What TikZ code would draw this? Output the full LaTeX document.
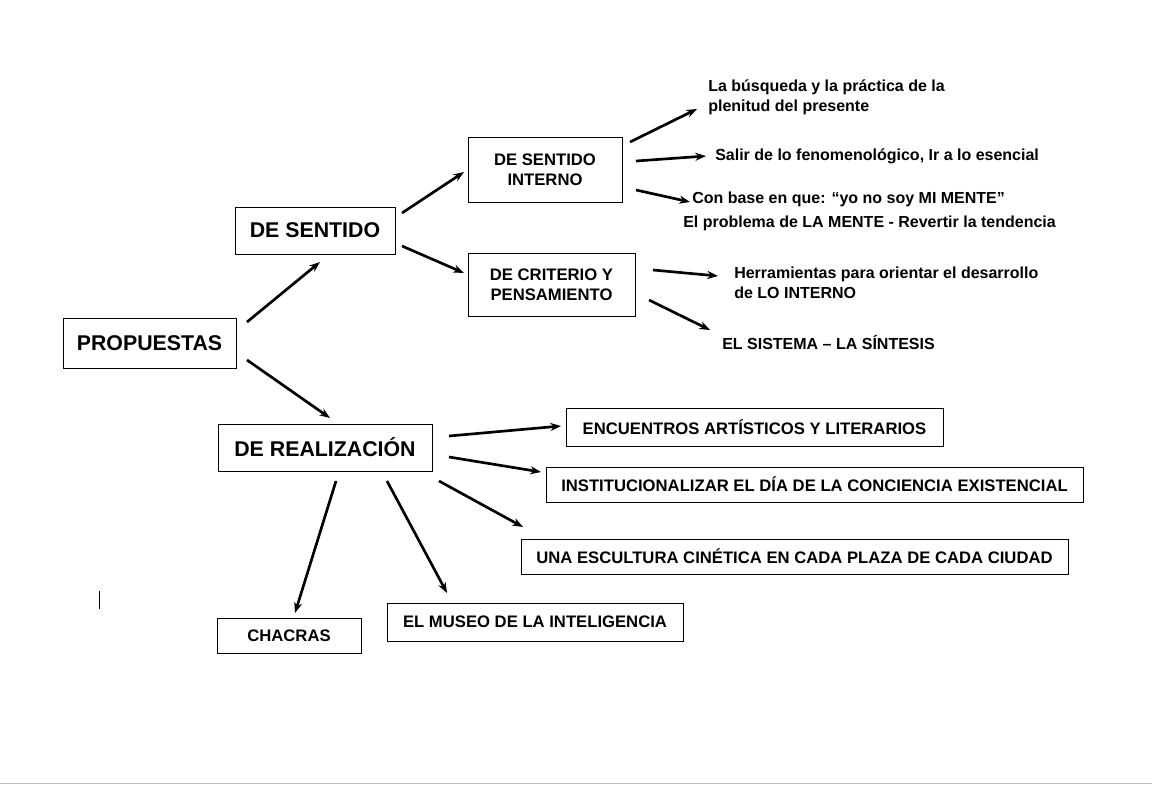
\documentclass[tikz,border=0pt]{standalone}
\usepackage{fontspec}
\setmainfont{Liberation Sans}
\usetikzlibrary{arrows.meta}
\begin{document}
\begin{tikzpicture}[x=0.75pt,y=-0.75pt,
  box/.style={draw,line width=0.6pt,inner sep=0pt,font=\bfseries\fontsize{12.5}{15}\selectfont,align=center},
  bigbox/.style={box,font=\bfseries\fontsize{16}{19}\selectfont},
  txt/.style={anchor=west,inner sep=0pt,font=\bfseries\fontsize{12}{15}\selectfont,align=left},
  arr/.style={-{Stealth[length=8pt,width=6pt]},line width=2pt}]
\fill[white] (0,0) rectangle (1152,785);
\useasboundingbox (0,0) rectangle (1152,785);
\draw[gray!50,line width=0.6pt] (0,783) -- (1152,783);
\draw[line width=0.6pt] (99,591) -- (99,609);
\node[bigbox,minimum width=173*0.75pt,minimum height=50*0.75pt] (prop) at (149.5,343) {PROPUESTAS};
\node[bigbox,minimum width=160*0.75pt,minimum height=47*0.75pt] (ds) at (315,230.5) {DE SENTIDO};
\node[box,minimum width=154*0.75pt,minimum height=65*0.75pt] (dsi) at (545,169.5) {DE SENTIDO\\INTERNO};
\node[box,minimum width=167*0.75pt,minimum height=63*0.75pt] (dcp) at (551.5,284.5) {DE CRITERIO Y\\PENSAMIENTO};
\node[bigbox,minimum width=214*0.75pt,minimum height=47*0.75pt] (dr) at (325,447.5) {DE REALIZACIÓN};
\node[box,minimum width=377*0.75pt,minimum height=38*0.75pt] (enc) at (754.5,427) {ENCUENTROS ARTÍSTICOS Y LITERARIOS};
\node[box,minimum width=537*0.75pt,minimum height=35*0.75pt] (ins) at (814.5,484.5) {INSTITUCIONALIZAR EL DÍA DE LA CONCIENCIA EXISTENCIAL};
\node[box,minimum width=547*0.75pt,minimum height=35*0.75pt] (esc) at (794.5,556.5) {UNA ESCULTURA CINÉTICA EN CADA PLAZA DE CADA CIUDAD};
\node[box,minimum width=296*0.75pt,minimum height=38*0.75pt] (mus) at (535,622) {EL MUSEO DE LA INTELIGENCIA};
\node[box,minimum width=144*0.75pt,minimum height=35*0.75pt] (cha) at (289,636) {CHACRAS};
\node[txt] (t1) at (708,97) {La búsqueda y la práctica de la\\plenitud del presente};
\node[txt] (t2) at (715,156) {Salir de lo fenomenológico, Ir a lo esencial};
\node[txt] (t3) at (692,199) {Con base en que: “yo no soy MI MENTE”};
\node[txt] (t3b) at (683,223) {El problema de LA MENTE - Revertir la tendencia};
\node[txt] (t4) at (734,283) {Herramientas para orientar el desarrollo\\de LO INTERNO};
\node[txt] (t5) at (722,342) {EL SISTEMA – LA SÍNTESIS};
\draw[arr] (247,322) -- (320,262);
\draw[arr] (247,360) -- (330,418);
\draw[arr] (402,213) -- (464,172);
\draw[arr] (402,246) -- (464,273);
\draw[arr] (630,142) -- (697,109);
\draw[arr] (636,161) -- (706,156);
\draw[arr] (636,190) -- (690,202);
\draw[arr] (653,270) -- (718,276);
\draw[arr] (649,300) -- (710,330);
\draw[arr] (449,436) -- (561,426);
\draw[arr] (449,457) -- (541,472);
\draw[arr] (439,481) -- (523,527);
\draw[arr] (387,481) -- (447,593);
\draw[arr] (336,481) -- (295,613);
\end{tikzpicture}
\end{document}
